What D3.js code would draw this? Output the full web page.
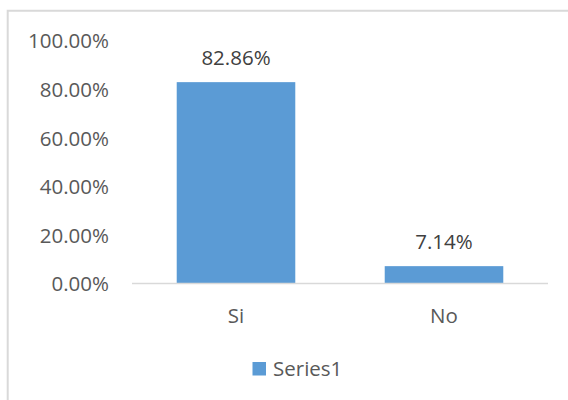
<!DOCTYPE html>
<html>
<head>
<meta charset="utf-8">
<script src="https://cdn.jsdelivr.net/npm/d3@7"></script>
<style>
  html, body { margin: 0; padding: 0; background: #fff; }
  svg { display: block; }
  text { font-family: "Open Sans", "Noto Sans", sans-serif; }
</style>
</head>
<body>
<svg id="chart" width="568" height="400"></svg>
<script>
// Survey answers and their shares
const categories = ["Si", "No"];
const values = [0.8286, 0.0714];
const yTicks = [0, 0.2, 0.4, 0.6, 0.8, 1.0];
const seriesName = "Series1";

const W = 568, H = 400;
const plot = { left: 132, right: 548, top: 40.5, bottom: 283.5 };
const fontSize = 20.5;
const barColor = "#5b9bd5";
const gridGrey = "#d9d9d9";

const svg = d3.select("#chart");

svg.append("rect").attr("width", W).attr("height", H).attr("fill", "#fff");

// chart frame (only the top and left edges fall inside the view)
svg.append("path")
  .attr("d", `M7.7,${H} V10.8 H${W}`)
  .attr("fill", "none")
  .attr("stroke", gridGrey)
  .attr("stroke-width", 2);

const x = d3.scaleBand()
  .domain(categories)
  .range([plot.left, plot.right])
  .paddingInner(0.43)
  .paddingOuter(0.215);

const y = d3.scaleLinear()
  .domain([0, 1])
  .range([plot.bottom, plot.top]);

// value axis labels
const yAxis = svg.append("g")
  .attr("transform", `translate(${plot.left},0)`)
  .call(d3.axisLeft(y).tickValues(yTicks).tickFormat(d3.format(".2%")).tickSize(0).tickPadding(23));
yAxis.select(".domain").remove();
yAxis.selectAll("text")
  .attr("font-size", fontSize)
  .attr("font-family", "'Open Sans', 'Noto Sans', sans-serif")
  .attr("fill", "#595959")
  .attr("dy", "0.36em");

// bars
svg.append("g").selectAll("rect")
  .data(categories)
  .join("rect")
  .attr("x", d => x(d))
  .attr("width", x.bandwidth())
  .attr("y", (d, i) => y(values[i]))
  .attr("height", (d, i) => y(0) - y(values[i]))
  .attr("fill", barColor);

// category axis
const xAxis = svg.append("g")
  .attr("transform", `translate(0,${plot.bottom})`)
  .call(d3.axisBottom(x).tickSize(0).tickPadding(0));
xAxis.select(".domain")
  .attr("stroke", gridGrey)
  .attr("stroke-width", 1.5)
  .attr("d", `M${plot.left},0H${plot.right}`);
xAxis.selectAll("text")
  .attr("font-size", fontSize)
  .attr("font-family", "'Open Sans', 'Noto Sans', sans-serif")
  .attr("fill", "#595959")
  .attr("y", 39.5)
  .attr("dy", 0);

// data labels
svg.append("g").selectAll("text")
  .data(categories)
  .join("text")
  .attr("x", d => x(d) + x.bandwidth() / 2)
  .attr("y", (d, i) => y(values[i]) - 17.5)
  .attr("text-anchor", "middle")
  .attr("font-size", fontSize)
  .attr("fill", "#404040")
  .text((d, i) => d3.format(".2%")(values[i]));

// legend
const legend = svg.append("g").attr("transform", "translate(252.5,362)");
legend.append("rect")
  .attr("width", 13.5)
  .attr("height", 13.5)
  .attr("fill", barColor);
legend.append("text")
  .attr("x", 20.5)
  .attr("y", 14)
  .attr("font-size", fontSize)
  .attr("fill", "#595959")
  .text(seriesName);
</script>
</body>
</html>
